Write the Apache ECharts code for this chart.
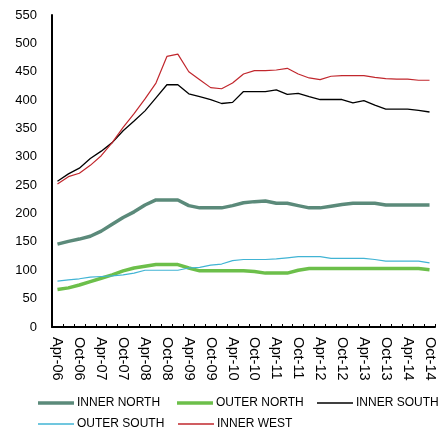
<!DOCTYPE html>
<html>
<head>
<meta charset="utf-8">
<script src="https://cdn.jsdelivr.net/npm/echarts@6/dist/echarts.min.js"></script>
<style>html,body{margin:0;padding:0;background:#fff;}#c{width:448px;height:427px;}</style>
</head>
<body>
<div id="c"></div>
<script>
const categories = ['Apr-06','Jul-06','Oct-06','Jan-07','Apr-07','Jul-07','Oct-07','Jan-08','Apr-08','Jul-08','Oct-08','Jan-09','Apr-09','Jul-09','Oct-09','Jan-10','Apr-10','Jul-10','Oct-10','Jan-11','Apr-11','Jul-11','Oct-11','Jan-12','Apr-12','Jul-12','Oct-12','Jan-13','Apr-13','Jul-13','Oct-13','Jan-14','Apr-14','Jul-14','Oct-14'];
const innerNorth = [146,151,155,160,169,181,193,203,215,224,224,224,214,210,210,210,214,219,221,222,218,218,214,210,210,213,216,218,218,218,215,215,215,215,215];
const outerNorth = [66,69,74,80,86,92,99,104,107,110,110,110,104,99,99,99,99,99,98,95,95,95,100,103,103,103,103,103,103,103,103,103,103,103,101];
const innerSouth = [257,270,280,297,310,325,346,363,381,404,427,427,411,406,401,394,396,415,415,415,418,410,412,406,401,401,401,395,399,391,384,384,384,382,379];
const outerSouth = [81,83,85,88,89,90,92,95,100,100,100,100,104,105,109,111,117,119,119,119,120,122,124,124,124,121,121,121,121,119,116,116,116,116,113];
const innerWest = [252,265,271,285,302,325,352,376,402,430,477,481,450,436,422,420,430,446,452,452,453,456,446,439,436,442,443,443,443,440,438,437,437,435,435];
const yTicks = [0,50,100,150,200,250,300,350,400,450,500,550];

const names = ['INNER NORTH','OUTER NORTH','INNER SOUTH','OUTER SOUTH','INNER WEST'];
const colors = ['#5b8a7a','#6cbf4a','#000000','#41b4d4','#c1272d'];
const widths = [3.5,3.5,1.3,1.2,1.2];
const datas = [innerNorth, outerNorth, innerSouth, outerSouth, innerWest];
const legendPos = [[33,392],[172,392],[312,392],[33,413],[173,413]];

const font = 'Liberation Sans, Arial, sans-serif';
const chart = echarts.init(document.getElementById('c'), null, {renderer:'canvas'});
chart.setOption({
  animation: false,
  backgroundColor: '#fff',
  grid: {left: 52, right: 13, top: 15, bottom: 100, containLabel: false},
  xAxis: {
    type: 'category',
    data: categories,
    boundaryGap: true,
    axisLine: {lineStyle: {color: '#000', width: 2}},
    axisTick: {show: true, inside: true, length: 3, interval: 0, lineStyle: {color: '#000', width: 1}},
    axisLabel: {rotate: -90, interval: 1, color: '#000', fontSize: 14.5, fontFamily: font, margin: 10},
    splitLine: {show: false}
  },
  yAxis: {
    type: 'value',
    min: yTicks[0], max: yTicks[yTicks.length-1], interval: 50,
    axisLine: {show: true, lineStyle: {color: '#000', width: 2}},
    axisTick: {show: false},
    axisLabel: {color: '#000', fontSize: 13, fontFamily: font, margin: 15},
    splitLine: {show: false}
  },
  legend: names.map((n, i) => ({
    data: [n],
    left: legendPos[i][0], top: legendPos[i][1],
    icon: 'rect', itemWidth: 36, itemHeight: widths[i] > 2 ? 3.5 : 1.3,
    itemGap: 0,
    textStyle: {color: '#000', fontSize: 12, fontFamily: font, padding: [0,0,0,-2]}
  })),
  series: names.map((n, i) => ({
    name: n, type: 'line', data: datas[i], symbol: 'none', smooth: false,
    lineStyle: {color: colors[i], width: widths[i]},
    itemStyle: {color: colors[i]},
    z: i === 0 || i === 1 ? 2 : 3
  }))
});
</script>
</body>
</html>
